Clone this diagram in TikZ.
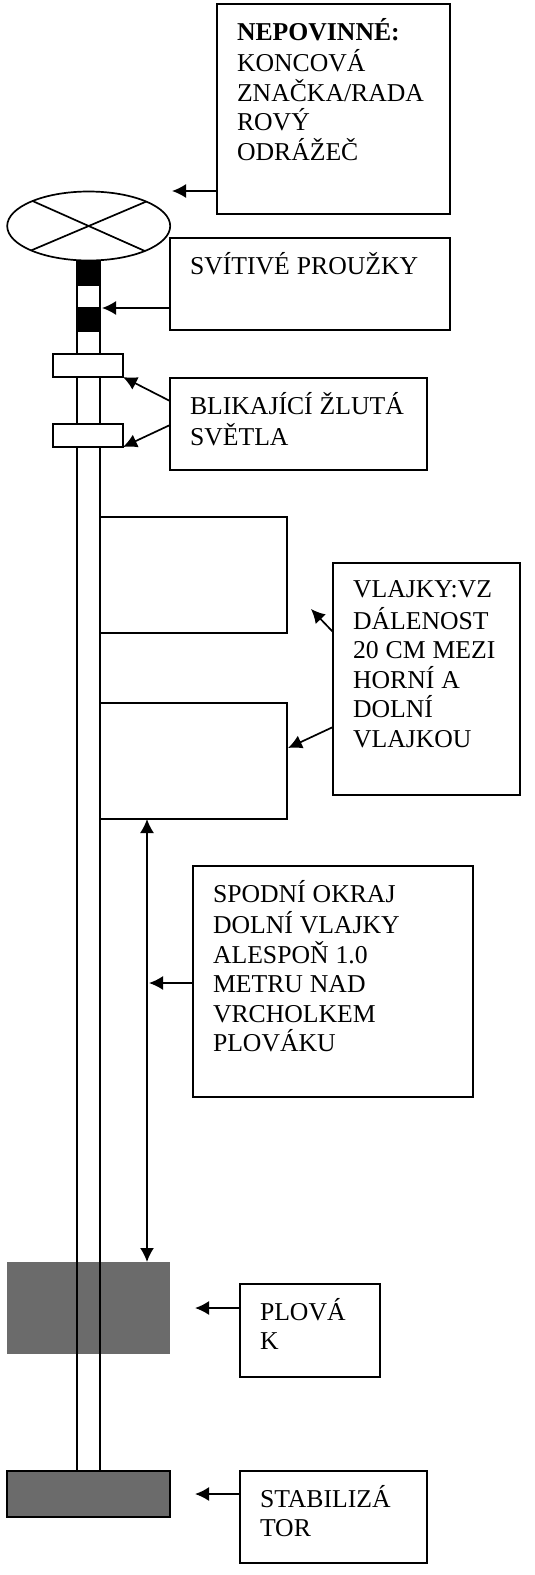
\documentclass[tikz,border=0pt]{standalone}
\usepackage{fontspec}
\setmainfont{Liberation Serif}
\usetikzlibrary{arrows.meta,shapes.geometric}
\definecolor{floatgray}{HTML}{6B6B6B}
\newcommand{\boxbody}[2]{\parbox[t][#1][t]{\hsize}{\fontsize{25.7}{29.4}\selectfont\raggedright\spaceskip=0.27em\relax\strut #2}}
\tikzset{
  part/.style={draw, line width=1.7pt, anchor=north west, inner sep=0pt, outer sep=0pt, fill=white},
  notebox/.style={draw, line width=1.7pt, anchor=north west, inner xsep=20pt, inner ysep=14pt, outer sep=0pt},
  stripe/.style={anchor=north west, inner sep=0pt, outer sep=0pt, fill=black, minimum width=23pt, minimum height=24.5pt},
  pointer/.style={<-, line width=1.7pt}
}
\begin{document}
\begin{tikzpicture}[x=1pt, y=-1pt, >={Latex[length=14pt,width=14pt]}]
  \useasboundingbox (0,0) rectangle (535,1575);

  % Float and stabiliser
  \node[anchor=north west, inner sep=0pt, outer sep=0pt, fill=floatgray, minimum width=163pt, minimum height=92pt] (float) at (7,1262) {};
  \node[part, fill=floatgray, minimum width=163pt, minimum height=46pt] (stabiliser) at (7,1471) {};

  % Top mark
  \node[draw, ellipse, line width=1.7pt, inner sep=0pt, outer sep=0pt, minimum width=163pt, minimum height=69pt] (topmark) at (88.7,226) {};
  \draw[line width=1.7pt] (topmark.156.4) -- (topmark.336.4);
  \draw[line width=1.7pt] (topmark.23.6) -- (topmark.203.6);

  % Pole
  \coordinate (poleL) at (77,260);
  \coordinate (poleR) at (100,260);
  \draw[line width=1.7pt] (poleL) -- (poleL |- stabiliser.north);
  \draw[line width=1.7pt] (poleR) -- (poleR |- stabiliser.north);

  % Stripes, lights, flags
  \node[stripe] (stripeA) at (77,261) {};
  \node[stripe] (stripeB) at (77,307) {};
  \node[part, minimum width=70pt, minimum height=23pt] (lightA) at (53,354) {};
  \node[part, minimum width=70pt, minimum height=23pt] (lightB) at (53,424) {};
  \node[part, minimum width=187pt, minimum height=116pt] (flagA) at (100,517) {};
  \node[part, minimum width=187pt, minimum height=116pt] (flagB) at (100,703) {};

  % Labels
  \node[notebox, text width=193pt] (optionBox) at (217,4) {\boxbody{182pt}{\textbf{NEPOVINNÉ:}\\KONCOVÁ\\ZNAČKA/RADA\\ROVÝ\\ODRÁŽEČ}};
  \node[notebox, text width=240pt] (stripeBox) at (170,238) {\boxbody{64pt}{SVÍTIVÉ PROUŽKY}};
  \node[notebox, text width=217pt] (lightBox) at (170,378) {\boxbody{64pt}{BLIKAJÍCÍ ŽLUTÁ\\SVĚTLA}};
  \node[notebox, text width=147pt] (flagBox) at (333,563) {\boxbody{204pt}{VLAJKY:VZ\\DÁLENOST\\20 CM MEZI\\HORNÍ A\\DOLNÍ\\VLAJKOU}};
  \node[notebox, text width=240pt] (heightBox) at (193,866) {\boxbody{203pt}{SPODNÍ OKRAJ\\DOLNÍ VLAJKY\\ALESPOŇ 1.0\\METRU NAD\\VRCHOLKEM\\PLOVÁKU}};
  \node[notebox, text width=100pt] (floatBox) at (240,1284) {\boxbody{65pt}{PLOVÁ\\K}};
  \node[notebox, text width=147pt] (stabBox) at (240,1471) {\boxbody{64pt}{STABILIZÁ\\TOR}};

  % Arrows
  \coordinate (optionTip) at (172,191);
  \coordinate (stripeTip) at (102,308);
  \coordinate (flagTipA) at (311,609);
  \coordinate (flagTipB) at (288,748);
  \coordinate (heightTop) at (147,819);
  \coordinate (heightTip) at (149,983);
  \coordinate (floatTip) at (195,1308);
  \coordinate (stabTip) at (195,1494);
  \draw[pointer] (optionTip) -- (optionTip -| optionBox.west);
  \draw[pointer] (stripeTip) -- (stripeTip -| stripeBox.west);
  \draw[pointer] (lightA.south east) -- ([yshift=-23pt]lightBox.north west);
  \draw[pointer] (lightB.south east) -- ([yshift=-47pt]lightBox.north west);
  \draw[pointer] (flagTipA) -- ([yshift=-69pt]flagBox.north west);
  \draw[pointer] (flagTipB) -- ([yshift=-164pt]flagBox.north west);
  \draw[<->, line width=1.7pt] (heightTop) -- (heightTop |- float.north);
  \draw[pointer] (heightTip) -- (heightTip -| heightBox.west);
  \draw[pointer] (floatTip) -- (floatTip -| floatBox.west);
  \draw[pointer] (stabTip) -- (stabTip -| stabBox.west);
\end{tikzpicture}
\end{document}
